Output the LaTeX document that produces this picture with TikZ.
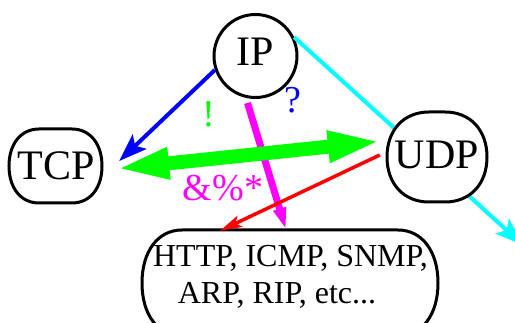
\documentclass[tikz,border=0pt]{standalone}
\usepackage{fontspec}
\setmainfont{Liberation Serif}
\usetikzlibrary{arrows.meta,calc}
\definecolor{pcyan}{RGB}{0,255,255}
\definecolor{pmagenta}{RGB}{255,0,255}
\definecolor{pgreen}{RGB}{0,255,0}
\definecolor{pblue}{RGB}{0,0,255}
\definecolor{pred}{RGB}{255,0,0}
\begin{document}
\begin{tikzpicture}[x=1pt,y=-1pt,
  outline/.style={draw=black, line width=3pt, fill=white},
  proto/.style={inner sep=0pt, font=\fontsize{42}{42}\selectfont},
  lbl/.style={inner sep=0pt, font=\fontsize{38}{38}\selectfont},
  apptext/.style={inner sep=0pt, anchor=base, font=\fontsize{32}{32}\selectfont},
  thinarrow/.style={line width=4pt, -{Stealth[length=28pt,width=20pt,inset=6pt]}},
  redarrow/.style={pred, line width=3.5pt, -{Stealth[length=22pt,width=12pt,inset=5pt]}},
  pinkarrow/.style={pmagenta, line width=7pt, line cap=butt, -{Triangle[length=22pt,width=12pt]}},
  greenarrow/.style={pgreen, line width=14pt, {Triangle[length=55pt,width=28pt]}-{Triangle[length=55pt,width=28pt]}}
]
\useasboundingbox (0,0) rectangle (515,323);

% IP node
\node[proto, outline, circle, minimum size=83pt, text depth=8pt] (IP) at (255.5,56) {IP};

% cyan connector, drawn behind UDP
\coordinate (cyanend) at (523,245);
\draw[pcyan, thinarrow] (IP.26) -- (cyanend);

% UDP
\draw[outline] (387,157) .. controls (387,130) and (403.8,112) .. (429,112) -- (445,112)
  .. controls (470.2,112) and (487,130) .. (487,157)
  .. controls (487,184) and (470.2,202) .. (445,202) -- (429,202)
  .. controls (403.8,202) and (387,184) .. (387,157) -- cycle;
\node[proto, minimum width=100pt, minimum height=90pt, text depth=5pt] (UDP) at (437,157) {UDP};

% TCP
\draw[outline] (9,166) .. controls (9,143.8) and (21,129) .. (39,129) -- (72,129)
  .. controls (90,129) and (102,143.8) .. (102,166)
  .. controls (102,188.2) and (90,203) .. (72,203) -- (39,203)
  .. controls (21,203) and (9,188.2) .. (9,166) -- cycle;
\node[proto, minimum width=93pt, minimum height=74pt] (TCP) at (56.5,166) {TCP};

% applications box
\draw[outline] (142,283) .. controls (142,251.2) and (158,230) .. (182,230) -- (398,230)
  .. controls (422,230) and (438,251.2) .. (438,283)
  .. controls (438,314.8) and (422,336) .. (398,336) -- (182,336)
  .. controls (158,336) and (142,314.8) .. (142,283) -- cycle;
\node[inner sep=0pt, minimum width=296pt, minimum height=106pt] (apps) at (290,283) {};
\node[apptext] (l1) at (290.5,267) {HTTP, ICMP, SNMP,};
\node[apptext] (l2) at (277,304) {ARP, RIP, etc...};

% blue connector
\draw[pblue, thinarrow] (IP.199) -- ($(TCP.east)+(16,-5)$);

% magenta connector
\draw[pinkarrow] ($(IP.south)+(-8,4)$) -- ($(apps.north)+(-4,0)$);

% green double connector
\draw[greenarrow] ($(TCP.east)+(11,3)$) -- ($(UDP.west)+(-4,-16)$);

% red connector
\draw[redarrow] ($(UDP.west)+(-7,-2)$) -- ($(apps.north)+(-70,1)$);

% labels
\node[lbl, pgreen] (bang) at (209,114) {!};
\node[lbl, pblue] (quest) at (293,100) {?};
\node[lbl, pmagenta] (sym) at (223,188) {\&\%*};
\end{tikzpicture}
\end{document}
